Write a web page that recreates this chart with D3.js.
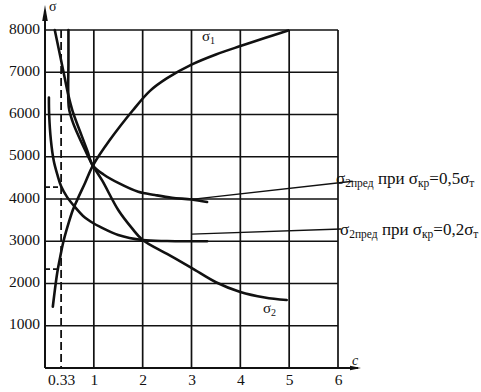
<!DOCTYPE html>
<html>
<head>
<meta charset="utf-8">
<script src="https://cdn.jsdelivr.net/npm/d3@7"></script>
<style>
  body { margin: 0; background: #fff; }
  svg text { font-family: "Liberation Serif", "Times New Roman", serif; fill: #111; }
</style>
</head>
<body>
<svg id="chart" width="481" height="392"></svg>
<script>
const width = 481;
const height = 392;

// grid / ticks
const yTicks = [1000, 2000, 3000, 4000, 5000, 6000, 7000, 8000];
const xGrid = [1, 2, 3, 4, 5, 6];
const xTicks = [0.33, 1, 2, 3, 4, 5, 6];
const xTickLabels = ['0.33', '1', '2', '3', '4', '5', '6'];

// curves, [c, sigma]
const sigma1 = [[0.16, 1450], [0.25, 2250], [0.31, 2620], [0.37, 2960], [0.47, 3380], [0.57, 3740],
  [0.66, 3980], [0.82, 4380], [0.98, 4790], [1.33, 5400], [1.8, 6100], [2.15, 6560],
  [2.5, 6860], [3.0, 7180], [3.5, 7420], [4.0, 7620], [4.5, 7810], [4.98, 7990]];
const sigma2 = [[0.48, 8000], [0.48, 7200], [0.475, 6600], [0.49, 6150], [0.56, 5850], [0.66, 5560],
  [0.82, 5160], [0.98, 4790], [1.17, 4440], [1.5, 3740], [1.78, 3310], [2.0, 3030],
  [2.5, 2700], [3.0, 2370], [3.5, 2030], [4.0, 1800], [4.5, 1670], [4.95, 1610]];
const pred05 = [[0.2, 8000], [0.38, 7000], [0.47, 6500], [0.56, 6100], [0.75, 5500], [0.87, 5130],
  [0.98, 4790], [1.2, 4580], [1.5, 4380], [1.91, 4170], [2.25, 4095], [2.6, 4030],
  [3.0, 3990], [3.32, 3930]];
const pred02 = [[0.08, 6400], [0.085, 6000], [0.12, 5400], [0.18, 4900], [0.26, 4550], [0.33, 4300],
  [0.45, 4050], [0.62, 3800], [0.78, 3600], [1.0, 3420], [1.13, 3340], [1.5, 3150],
  [2.0, 3030], [2.5, 3005], [3.0, 3000], [3.32, 3000]];

// dashed marks at c = 0.33
const markC = 0.33;
const markLevels = [4280, 2340];

// leader lines for the two annotations
const leader05 = [[3.0, 3990], [6.3, 4420]];
const leader02 = [[3.0, 3170], [6.06, 3290]];

const svg = d3.select('#chart');

const x = d3.scaleLinear().domain([0, 6]).range([45, 338]);
const y = d3.scaleLinear().domain([0, 8000]).range([368, 30]);

const ink = '#111';

// grid lines
svg.append('g')
  .selectAll('line')
  .data(yTicks)
  .join('line')
  .attr('x1', x(0)).attr('x2', x(6))
  .attr('y1', d => y(d)).attr('y2', d => y(d))
  .attr('stroke', ink).attr('stroke-width', 1.7);

svg.append('g')
  .selectAll('line')
  .data(xGrid)
  .join('line')
  .attr('x1', d => x(d)).attr('x2', d => x(d))
  .attr('y1', y(0)).attr('y2', y(8000))
  .attr('stroke', ink).attr('stroke-width', 1.7);

// main axes with arrows
svg.append('line')
  .attr('x1', x(0)).attr('x2', x(0))
  .attr('y1', y(0)).attr('y2', 14)
  .attr('stroke', ink).attr('stroke-width', 2);
svg.append('path')
  .attr('d', `M${x(0)},5 L${x(0) - 2.8},21 L${x(0) + 2.8},21 Z`)
  .attr('fill', ink);

svg.append('line')
  .attr('x1', x(0)).attr('x2', 358)
  .attr('y1', y(0)).attr('y2', y(0))
  .attr('stroke', ink).attr('stroke-width', 2);
svg.append('path')
  .attr('d', `M361,${y(0)} L350,${y(0) - 2.2} L350,${y(0) + 2.2} Z`)
  .attr('fill', ink);

// dashed construction lines
svg.append('line')
  .attr('x1', x(markC)).attr('x2', x(markC))
  .attr('y1', y(8000)).attr('y2', y(0))
  .attr('stroke', ink).attr('stroke-width', 1.8)
  .attr('stroke-dasharray', '8,4');

svg.append('g')
  .selectAll('line')
  .data(markLevels)
  .join('line')
  .attr('x1', x(0)).attr('x2', x(markC))
  .attr('y1', d => y(d)).attr('y2', d => y(d))
  .attr('stroke', ink).attr('stroke-width', 1.6)
  .attr('stroke-dasharray', '5,3');

// tick labels
const yAxis = d3.axisLeft(y).tickValues(yTicks).tickSize(0).tickPadding(5).tickFormat(d3.format('d'));
const gy = svg.append('g').attr('transform', `translate(${x(0)},0)`).call(yAxis);
gy.select('.domain').remove();
gy.selectAll('text').attr('font-size', 15.5).attr('dy', '0.2em')
  .style('font-family', '"Liberation Serif", serif').attr('fill', ink);

const xAxis = d3.axisBottom(x).tickValues(xTicks).tickSize(0).tickPadding(6)
  .tickFormat((d, i) => xTickLabels[i]);
const gx = svg.append('g').attr('transform', `translate(0,${y(0)})`).call(xAxis);
gx.select('.domain').remove();
gx.selectAll('text').attr('font-size', 15.5)
  .style('font-family', '"Liberation Serif", serif').attr('fill', ink);

// curves
const line = d3.line()
  .x(d => x(d[0]))
  .y(d => y(d[1]))
  .curve(d3.curveCatmullRom.alpha(0.5));

[sigma1, sigma2, pred05, pred02].forEach(s => {
  svg.append('path')
    .attr('d', line(s))
    .attr('fill', 'none')
    .attr('stroke', ink)
    .attr('stroke-width', 2.6)
    .attr('stroke-linecap', 'round');
});

const straight = d3.line().x(d => x(d[0])).y(d => y(d[1]));
[leader05, leader02].forEach(s => {
  svg.append('path')
    .attr('d', straight(s))
    .attr('fill', 'none')
    .attr('stroke', ink)
    .attr('stroke-width', 1.3);
});

// text with subscripts
function richText(px, py, parts, size, subSize) {
  const t = svg.append('text').attr('x', px).attr('y', py).attr('font-size', size);
  let shifted = false;
  parts.forEach(([s, sub]) => {
    const sp = t.append('tspan').text(s).attr('font-size', sub ? subSize : size);
    if (sub && !shifted) { sp.attr('dy', 3); shifted = true; }
    if (!sub && shifted) { sp.attr('dy', -3); shifted = false; }
  });
  return t;
}

richText(49, 11, [['σ', false]], 14, 10);
svg.append('text').attr('x', 352).attr('y', 365).attr('font-size', 14)
  .attr('font-style', 'italic').text('c');

richText(202, 41, [['σ', false], ['1', true]], 15, 10);
richText(263, 313, [['σ', false], ['2', true]], 15, 10);

richText(336, 184, [['σ', false], ['2пред', true], [' при σ', false], ['кр', true], ['=0,5σ', false], ['т', true]], 17, 11.5);
richText(340, 235, [['σ', false], ['2пред', true], [' при σ', false], ['кр', true], ['=0,2σ', false], ['т', true]], 17, 11.5);
</script>
</body>
</html>
